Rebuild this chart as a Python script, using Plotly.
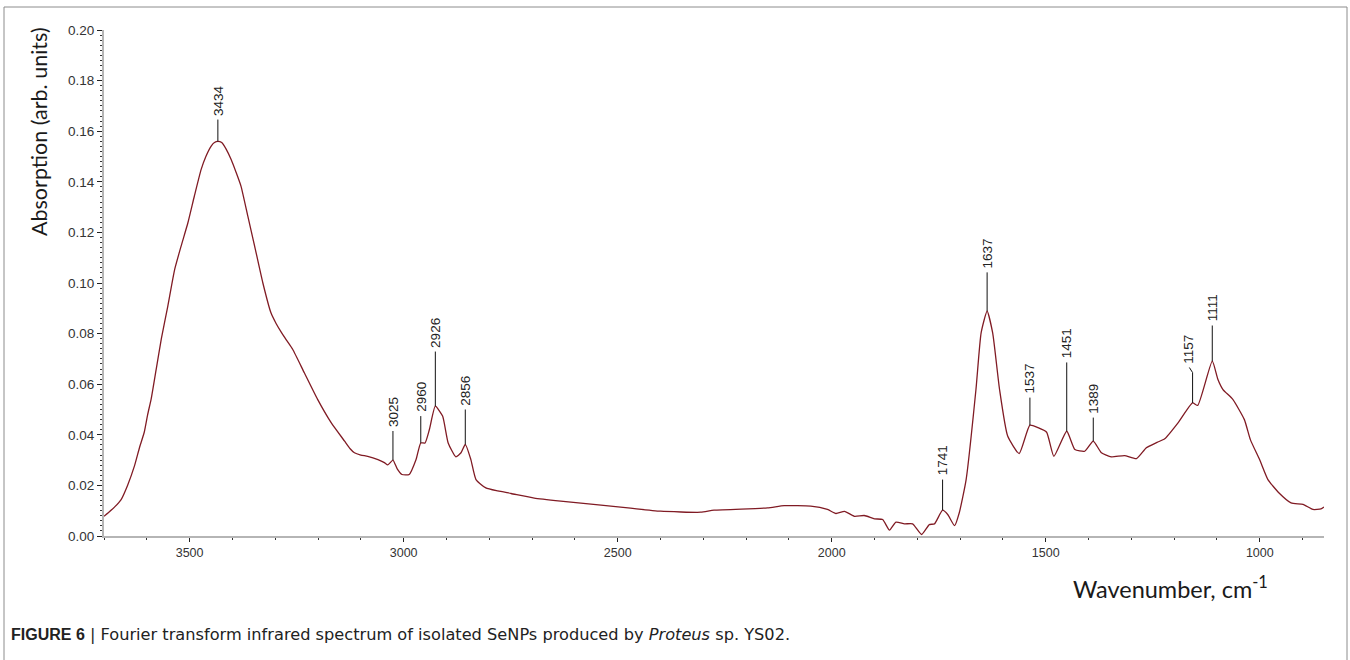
import plotly.graph_objects as go

# ---- spectrum data (wavenumber cm-1, absorption) ----
wavenumber = [3700, 3690, 3675, 3660, 3645, 3629, 3617, 3606, 3598, 3590, 3578, 3566, 3551, 3535,
              3520, 3504, 3489, 3473, 3462, 3450, 3442, 3434, 3425, 3415, 3403, 3392, 3380, 3364,
              3348, 3329, 3310, 3298, 3286, 3272, 3259, 3232, 3201, 3169, 3138, 3125, 3115, 3100,
              3084, 3060, 3045, 3037, 3025, 3015, 3004, 2987, 2971, 2960, 2950, 2940, 2926, 2909,
              2896, 2878, 2866, 2856, 2843, 2831, 2808, 2780, 2749, 2695, 2633, 2539, 2470, 2400,
              2306, 2275, 2150, 2111, 2049, 2010, 1990, 1970, 1947, 1924, 1900, 1881, 1865, 1850,
              1830, 1811, 1790, 1772, 1760, 1741, 1729, 1713, 1702, 1686, 1663, 1651, 1637, 1624,
              1608, 1589, 1562, 1537, 1518, 1498, 1481, 1451, 1432, 1409, 1389, 1370, 1347, 1316,
              1288, 1265, 1240, 1222, 1191, 1157, 1145, 1111, 1098, 1086, 1063, 1036, 1022, 1000,
              981, 955, 927, 899, 876, 857, 850]
absorption = [0.0078, 0.0092, 0.0115, 0.0144, 0.020, 0.0276, 0.035, 0.041, 0.048, 0.054, 0.066,
              0.078, 0.0908, 0.1053, 0.1145, 0.1238, 0.1343, 0.1449, 0.150, 0.154, 0.1555, 0.156,
              0.1555, 0.153, 0.1488, 0.144, 0.1383, 0.1264, 0.1145, 0.1001, 0.0882, 0.084, 0.0806,
              0.077, 0.0737, 0.0645, 0.054, 0.0447, 0.0375, 0.0345, 0.0329, 0.032, 0.0315, 0.0302,
              0.029, 0.0281, 0.030, 0.0265, 0.0243, 0.0243, 0.0302, 0.0368, 0.0368, 0.042, 0.0513,
              0.0474, 0.0368, 0.0313, 0.0329, 0.0362, 0.0302, 0.0223, 0.019, 0.0178, 0.0168, 0.0150,
              0.0138, 0.0122, 0.011, 0.0098, 0.0094, 0.0102, 0.0111, 0.012, 0.0118, 0.0105, 0.0089,
              0.0097, 0.0078, 0.0081, 0.0068, 0.0065, 0.0023, 0.0055, 0.0048, 0.0048, 0.0006, 0.0045,
              0.0048, 0.0102, 0.0085, 0.0041, 0.0092, 0.0223, 0.058, 0.0803, 0.0889, 0.0803, 0.058,
              0.0395, 0.0326, 0.0438, 0.0428, 0.041, 0.0315, 0.0414, 0.0342, 0.0335, 0.0375, 0.0329,
              0.0313, 0.0318, 0.0306, 0.0349, 0.037, 0.0384, 0.0447, 0.0526, 0.0516, 0.0691, 0.062,
              0.0579, 0.054, 0.046, 0.0381, 0.030, 0.0223, 0.017, 0.0131, 0.0125, 0.0105, 0.0107,
              0.0115]

# ---- labelled peaks ----
peak_labels = ["3434", "3025", "2960", "2926", "2856", "1741", "1637", "1537", "1451", "1389", "1157", "1111"]
peak_pos = [3434, 3025, 2960, 2926, 2856, 1741, 1637, 1537, 1451, 1389, 1157, 1111]
peak_val = [0.156, 0.030, 0.0368, 0.0513, 0.0362, 0.0102, 0.0889, 0.0438, 0.0414, 0.0375, 0.0526, 0.0691]
peak_top = [0.1646, 0.0415, 0.0474, 0.0729, 0.050, 0.0223, 0.1042, 0.0547, 0.0686, 0.0468, 0.0646, 0.0832]
label_pos = [3434, 3025, 2960, 2926, 2856, 1741, 1637, 1537, 1451, 1389, 1168, 1111]

y_ticks = [0.00, 0.02, 0.04, 0.06, 0.08, 0.10, 0.12, 0.14, 0.16, 0.18, 0.20]
x_ticks = [3500, 3000, 2500, 2000, 1500, 1000]

fig = go.Figure()
fig.add_trace(go.Scatter(x=wavenumber, y=absorption, mode="lines",
                         line=dict(color="#801b24", width=1.3, shape="spline", smoothing=0.5),
                         hoverinfo="skip"))

# peak marker lines (with a small kink where the label is offset)
lx, ly = [], []
for p, v, t, lp in zip(peak_pos, peak_val, peak_top, label_pos):
    lx += [p, p]
    ly += [v, t]
    if lp != p:
        lx.append((p + lp) / 2 + 2)
        ly.append(t + 0.002)
    lx.append(None)
    ly.append(None)
fig.add_trace(go.Scatter(x=lx, y=ly, mode="lines", line=dict(color="#111111", width=1),
                         hoverinfo="skip"))

annotations = []
for lab, p, lp, t in zip(peak_labels, peak_pos, label_pos, peak_top):
    annotations.append(dict(x=lp, y=t + (0.002 if lp != p else 0),
                            xref="x", yref="y", text=lab, showarrow=False,
                            textangle=-90, xanchor="center", yanchor="bottom", yshift=2,
                            font=dict(family="Liberation Sans, Arial", size=13.5, color="#222")))

L, R, T, B = 104, 26, 30, 124
W, H = 1350 - L - R, 660 - T - B


def px(xp):
    return (xp - L) / W


def py(yp):
    return (660 - B - yp) / H


# axis titles & caption (pixel positions converted to paper coordinates)
annotations.append(dict(x=px(39), y=py(132), xref="paper", yref="paper",
                        xanchor="center", yanchor="middle",
                        text="Absorption (arb. units)", showarrow=False, textangle=-90,
                        font=dict(family="Lato, Open Sans", size=21.5, color="#1a1a1a")))
annotations.append(dict(x=px(1170), y=py(587), xref="paper", yref="paper",
                        xanchor="center", yanchor="middle",
                        text="Wavenumber, cm<sup>-1</sup>", showarrow=False,
                        font=dict(family="Lato, Open Sans", size=23.5, color="#1a1a1a")))
annotations.append(dict(x=px(9), y=py(634), xref="paper", yref="paper",
                        xanchor="left", yanchor="middle",
                        text=("<span style=\"font-family:'Liberation Sans', Arial;font-size:16px\"><b>FIGURE 6</b></span>"
                              " | Fourier transform infrared spectrum of isolated SeNPs produced by "
                              "<i>Proteus</i> sp. YS02."),
                        showarrow=False,
                        font=dict(family="DejaVu Sans", size=16.2, color="#222")))

frame = dict(type="line", xref="paper", yref="paper", line=dict(color="#8c8c8c", width=1))
shapes = [
    dict(frame, x0=px(4), x1=px(1347), y0=py(7), y1=py(7)),
    dict(frame, x0=px(4), x1=px(4), y0=py(7), y1=py(662)),
    dict(frame, x0=px(1347), x1=px(1347), y0=py(7), y1=py(662)),
]

fig.update_layout(
    width=1350, height=660,
    margin=dict(l=L, r=R, t=T, b=B),
    paper_bgcolor="white", plot_bgcolor="white",
    showlegend=False,
    annotations=annotations,
    shapes=shapes,
    font=dict(family="Liberation Sans, Arial", size=12, color="#333"),
)
fig.update_xaxes(range=[3700, 850], tickvals=x_ticks, showgrid=False, zeroline=False,
                 showline=True, linecolor="#b5b5b5", linewidth=2, ticks="outside",
                 ticklen=4, tickcolor="#222", tickwidth=1,
                 minor=dict(dtick=100, tick0=0, ticks="outside", ticklen=2, tickcolor="#333"),
                 tickfont=dict(family="Liberation Sans, Arial", size=12.5, color="#333"))
fig.update_yaxes(range=[0, 0.2], tickvals=y_ticks, tickformat=".2f", showgrid=False, zeroline=False,
                 showline=True, linecolor="#b5b5b5", linewidth=2, ticks="outside",
                 ticklen=5, tickcolor="#222", tickwidth=1,
                 minor=dict(dtick=0.002, tick0=0, ticks="outside", ticklen=2, tickcolor="#333"),
                 tickfont=dict(family="Liberation Sans, Arial", size=13.5, color="#333"))

fig.write_html("out.html")
